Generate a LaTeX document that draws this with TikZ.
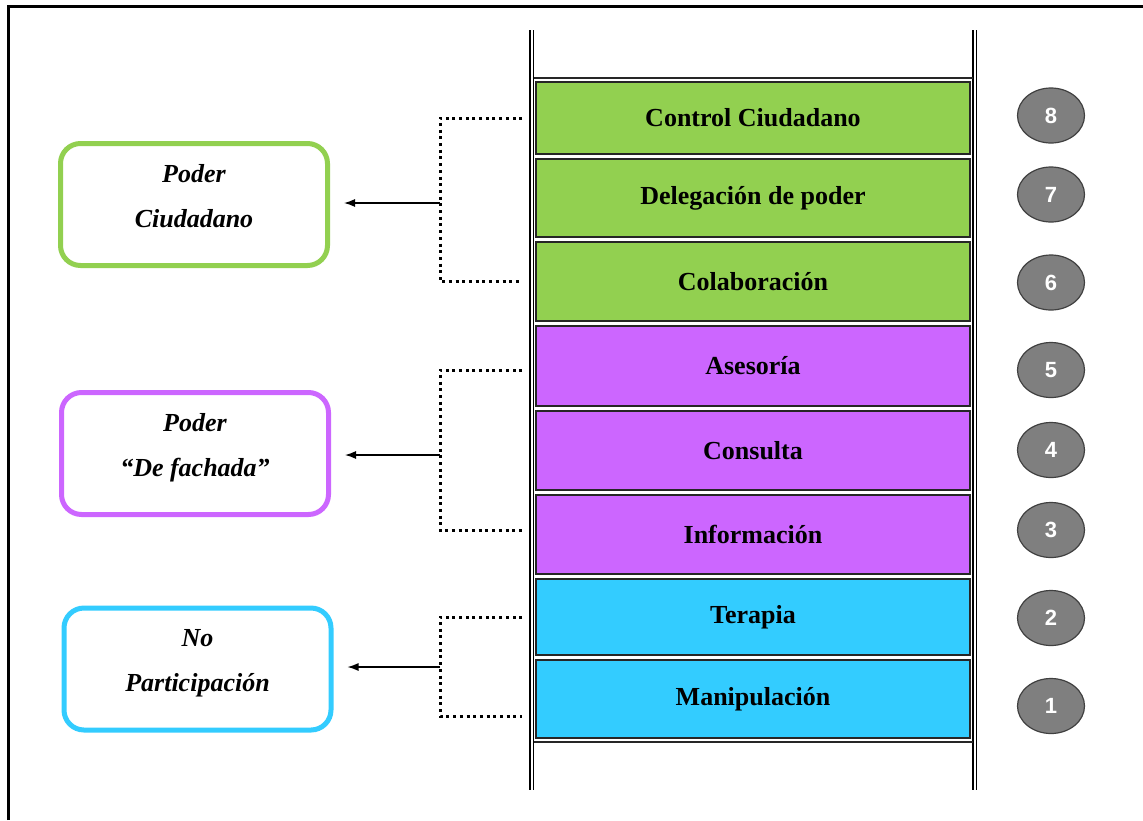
\documentclass[tikz,border=0pt]{standalone}
\usepackage{fontspec}
\setmainfont{Liberation Serif}
\newfontfamily\numfont{Liberation Sans}
\usetikzlibrary{shapes.geometric,arrows.meta}
\definecolor{verde}{HTML}{92D050}
\definecolor{morado}{HTML}{CC66FF}
\definecolor{celeste}{HTML}{33CCFF}
\definecolor{gris}{HTML}{7F7F7F}
\begin{document}
\begin{tikzpicture}[x=1pt,y=-1pt,
	rung/.style={draw=black!85,line width=1.6pt,minimum width=434pt,font=\fontsize{26}{30}\selectfont\bfseries},
	num/.style={ellipse,draw=black!75,line width=1.2pt,fill=gris,minimum width=67pt,minimum height=55pt,text=white,font=\numfont\fontsize{22}{24}\selectfont\bfseries},
	group/.style={rounded corners=20pt,line width=5pt,minimum width=267pt,minimum height=122pt,align=center,font=\fontsize{26}{45}\selectfont\bfseries\itshape},
	rail/.style={double,line width=1.3pt,double distance=2pt},
	dots/.style={line width=3pt,dash pattern=on 3pt off 3.7pt},
	arr/.style={-{Latex[length=11pt,width=8pt]},line width=1.3pt,shorten >=14pt}]
			\useasboundingbox (0,0) rectangle (1143,820);
			\draw[line width=3pt] (8,820) -- (8,6) -- (1143,6);
			\draw[rail] (531.5,30) -- (531.5,790);
			\draw[rail] (974.5,30) -- (974.5,790);
			\draw[line width=1.6pt,black!85] (534,78) -- (973,78);
			\draw[line width=1.6pt,black!85] (534,742) -- (973,742);
			\node[rung,fill=verde,minimum height=72pt] (R8) at (753,118) {Control Ciudadano};
			\node[rung,fill=verde,minimum height=78pt] (R7) at (753,198) {Delegación de poder};
			\node[rung,fill=verde,minimum height=79pt] (R6) at (753,281.5) {Colaboración};
			\node[rung,fill=morado,minimum height=80pt] (R5) at (753,366) {Asesoría};
			\node[rung,fill=morado,minimum height=79pt] (R4) at (753,450.5) {Consulta};
			\node[rung,fill=morado,minimum height=79pt] (R3) at (753,534.5) {Información};
			\node[rung,fill=celeste,minimum height=76pt] (R2) at (753,617) {Terapia};
			\node[rung,fill=celeste,minimum height=78pt] (R1) at (753,699) {Manipulación};
			\node[num] (N8) at (1051,115.5) {8};
			\node[num] (N7) at (1051,194.5) {7};
			\node[num] (N6) at (1051,282.5) {6};
			\node[num] (N5) at (1051,370) {5};
			\node[num] (N4) at (1051,450) {4};
			\node[num] (N3) at (1051,530) {3};
			\node[num] (N2) at (1051,618) {2};
			\node[num] (N1) at (1051,706) {1};
			\node[group,draw=verde] (P1) at (194,204.5) {Poder\\Ciudadano\\[-27pt]\mbox{}};
			\node[group,draw=morado] (P2) at (195,453.5) {Poder\\“De fachada”\\[-27pt]\mbox{}};
			\node[group,draw=celeste] (P3) at (197.5,669) {No\\Participación\\[-27pt]\mbox{}};
			\coordinate (C1) at (440,203);
			\coordinate (C2) at (440,455);
			\coordinate (C3) at (440,667);
			\draw[dots] ([xshift=-13pt]R8.west) -| (C1) |- ([xshift=-13pt]R6.west);
			\draw[dots] ([xshift=-13pt,yshift=-4pt]R5.west) -| (C2) |- ([xshift=-13pt,yshift=4pt]R3.west);
			\draw[dots] ([xshift=-13pt]R2.west) -| (C3) |- ([xshift=-13pt,yshift=-17pt]R1.west);
			\draw[arr] (C1) -- (C1 -| P1.east);
			\draw[arr] (C2) -- (C2 -| P2.east);
			\draw[arr] (C3) -- (C3 -| P3.east);
\end{tikzpicture}
\end{document}
